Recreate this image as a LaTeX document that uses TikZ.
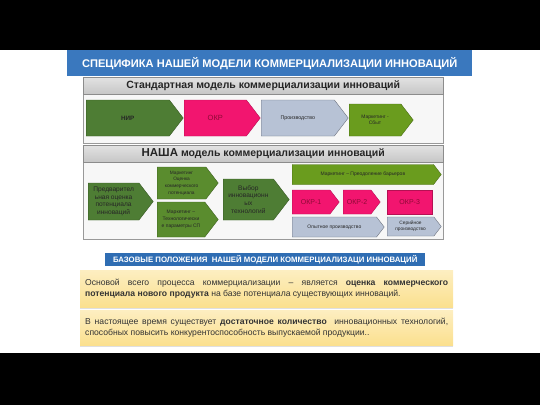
\documentclass[tikz,border=0pt]{standalone}
\usepackage{fontspec}
\setmainfont{Liberation Sans}
\usepackage{tikz}
\usetikzlibrary{shapes.symbols}
\usetikzlibrary{shadows}

\definecolor{titleblue}{HTML}{3A78BE}
\definecolor{basisblue}{HTML}{2F6DB3}
\definecolor{darkgreen}{HTML}{4E7D34}
\definecolor{midgreen}{HTML}{5A8C2E}
\definecolor{olivegreen}{HTML}{6A9C1E}
\definecolor{okrpink}{HTML}{F2156F}
\definecolor{okrtext}{HTML}{8E0A36}
\definecolor{prodgray}{HTML}{B7C2D5}
\definecolor{headgray}{HTML}{C6C6C6}
\definecolor{textgray}{HTML}{333333}
\definecolor{noteyellow}{HTML}{FBE08E}

\begin{document}
\begin{tikzpicture}[x=1pt, y=-1pt,
  arr/.style={shape=signal, signal to=east, signal from=nothing, signal pointer angle=105,
    draw, line width=0.4pt, inner sep=1pt, align=center, anchor=west, text=black!85},
  greenarr/.style={arr, fill=darkgreen, draw=darkgreen!70!black},
  lightarr/.style={arr, fill=midgreen, draw=midgreen!70!black},
  olivearr/.style={arr, fill=olivegreen, draw=olivegreen!70!black},
  okrarr/.style={arr, fill=okrpink, draw=okrpink!75!black, text=okrtext},
  prodarr/.style={arr, fill=prodgray, draw=prodgray!60!black},
  panelhead/.style={draw=black!45, top color=headgray!50, bottom color=headgray, anchor=north west,
    minimum width=360pt, minimum height=17pt, inner sep=0pt, font=\fontsize{10.5}{12}\selectfont\bfseries, text=black!85},
  panel/.style={draw=black!40, fill=black!3},
  notebox/.style={top color=noteyellow!55, bottom color=noteyellow,
    drop shadow={opacity=0.25, shadow xshift=0pt, shadow yshift=-1.5pt},
    anchor=north west, minimum width=373pt, text width=363pt, inner xsep=5pt, align=justify,
    font=\fontsize{8.6}{11}\selectfont, text=textgray}
]
\useasboundingbox (0,0) rectangle (540,405);
\fill[black] (0,0) rectangle (540,50);
\fill[black] (0,353) rectangle (540,405);

\node[fill=titleblue, anchor=north west, minimum width=405pt, minimum height=26pt, inner sep=0pt,
  text=white, font=\fontsize{11.1}{12}\selectfont\bfseries] (title) at (67,50)
  {СПЕЦИФИКА НАШЕЙ МОДЕЛИ КОММЕРЦИАЛИЗАЦИИ ИННОВАЦИЙ};

% standard model
\draw[panel] (83,77) rectangle (443,143);
\node[panelhead] (stdhead) at (83,77) {Стандартная модель коммерциализации инноваций};
\node[greenarr, minimum width=97pt, minimum height=36pt, font=\fontsize{6.3}{7}\selectfont\bfseries] (nir) at (86,118) {НИР};
\node[okrarr, minimum width=76pt, minimum height=36pt, font=\fontsize{7.5}{8}\selectfont] (okr) at (184,118) {ОКР};
\node[prodarr, minimum width=87pt, minimum height=36pt, font=\fontsize{5.3}{6}\selectfont] (prod) at (261,118) {Производство};
\node[olivearr, minimum width=64pt, minimum height=32pt, font=\fontsize{5}{6.5}\selectfont] (sbyt) at (349,120) {Маркетинг -\\Сбыт};

% our model
\draw[panel] (83,145) rectangle (443,239);
\node[panelhead] (ourhead) at (83,145) {{\fontsize{11.5}{12}\selectfont НАША} модель коммерциализации инноваций};
\node[greenarr, minimum width=65pt, minimum height=37pt, font=\fontsize{6.6}{7.7}\selectfont] (pred) at (88,201.5)
  {Предварител\\ьная оценка\\потенциала\\инноваций};
\node[lightarr, minimum width=61pt, minimum height=32pt, font=\fontsize{4.8}{6.6}\selectfont] (mocen) at (157,183)
  {Маркетинг\\Оценка\\коммерческого\\потенциала};
\node[lightarr, minimum width=61pt, minimum height=35pt, font=\fontsize{5}{7}\selectfont] (mtech) at (157,219.5)
  {Маркетинг –\\Технологически\\е параметры СП};
\node[greenarr, minimum width=66pt, minimum height=41pt, font=\fontsize{6.6}{7.8}\selectfont] (vybor) at (223,199.5)
  {Выбор\\инновационн\\ых\\технологий};
\node[olivearr, minimum width=149pt, minimum height=20pt, font=\fontsize{5}{6}\selectfont] (mbar) at (292,174.5)
  {Маркетинг – Преодоление барьеров};
\node[okrarr, minimum width=47pt, minimum height=24pt, font=\fontsize{7}{8}\selectfont] (okr1) at (292,202) {ОКР-1};
\node[okrarr, minimum width=37pt, minimum height=24pt, font=\fontsize{7}{8}\selectfont] (okr2) at (343,202) {ОКР-2};
\node[okrarr, shape=rectangle, minimum width=45pt, minimum height=24pt, font=\fontsize{7}{8}\selectfont] (okr3) at (387,202) {ОКР-3};
\node[prodarr, minimum width=92pt, minimum height=20pt, font=\fontsize{5}{6}\selectfont] (opyt) at (292,227) {Опытное производство};
\node[prodarr, minimum width=54pt, minimum height=19pt, font=\fontsize{4.8}{6}\selectfont] (seriy) at (387,226.5) {Серийное\\производство};

% basic statements
\node[fill=basisblue, anchor=north west, minimum width=320pt, minimum height=13pt, inner sep=0pt,
  text=white, font=\fontsize{7.8}{8}\selectfont\bfseries] (basis) at (105,253)
  {БАЗОВЫЕ ПОЛОЖЕНИЯ\ \ НАШЕЙ МОДЕЛИ КОММЕРЦИАЛИЗАЦИ ИННОВАЦИЙ};
\node[notebox, minimum height=37pt] (note1) at (80,270)
  {Основой всего процесса коммерциализации – является \textbf{оценка коммерческого}\linebreak
   \textbf{потенциала нового продукта} на базе потенциала существующих инноваций.};
\node[notebox, minimum height=35pt] (note2) at (80,310)
  {В настоящее время существует \textbf{достаточное количество}\ \ инновационных технологий,\linebreak
   способных повысить конкурентоспособность выпускаемой продукции..};
\end{tikzpicture}
\end{document}
